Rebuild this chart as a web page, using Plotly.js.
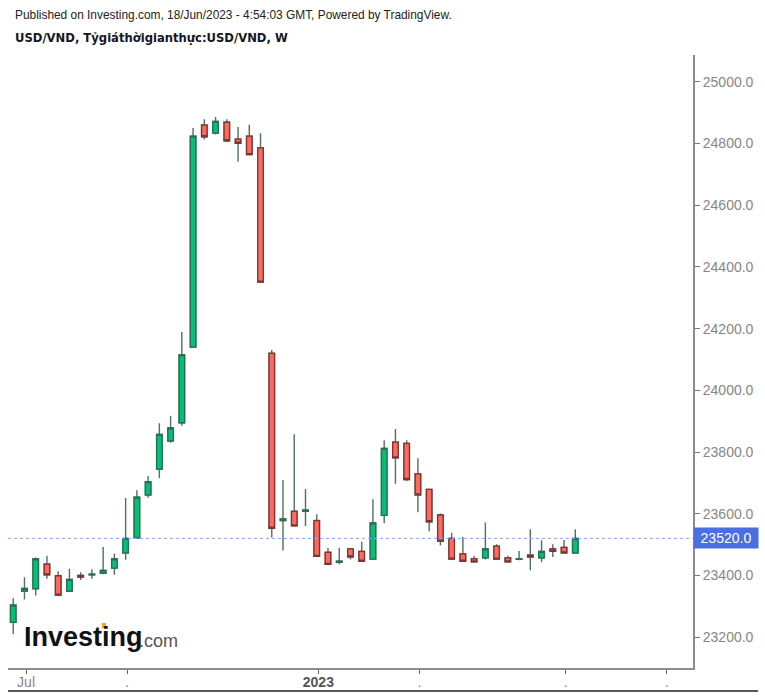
<!DOCTYPE html>
<html>
<head>
<meta charset="utf-8">
<script src="https://cdn.plot.ly/plotly-3.0.1.min.js"></script>
<style>
  html, body { margin: 0; padding: 0; background: #fff; }
</style>
</head>
<body>
<div id="chart" style="width:765px;height:696px;"></div>
<script>
// weekly bars
const weeks = [
  '2022-06-27','2022-07-04','2022-07-11','2022-07-18','2022-07-25','2022-08-01','2022-08-08','2022-08-15','2022-08-22','2022-08-29',
  '2022-09-05','2022-09-12','2022-09-19','2022-09-26','2022-10-03','2022-10-10','2022-10-17','2022-10-24','2022-10-31','2022-11-07',
  '2022-11-14','2022-11-21','2022-11-28','2022-12-05','2022-12-12','2022-12-19','2022-12-26','2023-01-02','2023-01-09','2023-01-16',
  '2023-01-23','2023-01-30','2023-02-06','2023-02-13','2023-02-20','2023-02-27','2023-03-06','2023-03-13','2023-03-20','2023-03-27',
  '2023-04-03','2023-04-10','2023-04-17','2023-04-24','2023-05-01','2023-05-08','2023-05-15','2023-05-22','2023-05-29','2023-06-05',
  '2023-06-12'];
const opens = [
  23248,23349,23357,23437,23399,23349,23400,23402,23407,23424,
  23473,23522,23661,23744,23836,23895,24140,24860,24834,24869,
  24814,24824,24786,24120,23578,23608,23608,23578,23475,23443,
  23486,23478,23453,23595,23832,23828,23729,23679,23596,23520,
  23470,23454,23457,23495,23457,23452,23466,23457,23486,23491,
  23473];
const highs = [
  23326,23394,23458,23464,23414,23422,23410,23420,23492,23471,
  23651,23676,23722,23893,23918,24189,24850,24879,24886,24879,
  24854,24861,24833,24131,23709,23858,23680,23598,23489,23490,
  23489,23509,23647,23838,23875,23838,23780,23679,23601,23538,
  23525,23464,23572,23501,23464,23479,23550,23514,23501,23515,
  23550];
const lows = [
  23210,23322,23335,23389,23336,23349,23385,23389,23404,23402,
  23451,23519,23652,23715,23830,23885,24138,24813,24829,24804,
  24741,24764,24351,23523,23481,23561,23560,23462,23436,23436,
  23452,23446,23453,23569,23697,23705,23605,23543,23497,23453,
  23446,23444,23452,23453,23444,23449,23417,23443,23460,23473,
  23473];
const closes = [
  23304,23358,23454,23402,23336,23387,23395,23404,23416,23454,
  23520,23654,23704,23857,23878,24115,24824,24822,24872,24809,
  24801,24764,24351,23553,23583,23561,23612,23462,23436,23446,
  23460,23446,23570,23812,23781,23711,23661,23574,23511,23453,
  23446,23444,23486,23453,23444,23454,23460,23478,23478,23473,
  23520];

const lastPrice = 23520;
const priceTicks = [23200,23400,23600,23800,24000,24200,24400,24600,24800,25000];
const timeTicks = ['2022-07-05','2022-09-06','2023-01-03','2023-03-07','2023-06-06','2023-08-08'];
const timeLabels = ['Jul','.','<span style="color:#555"><b>2023</b></span>','.','.','.'];

const upFill = '#00c176', upLine = '#2a6f55';
const downFill = '#ff6a60', downLine = '#803331';
const wickColor = '#4d7263';
const barWidth = 0.78 * 7 * 24 * 3600 * 1000;

// wicks go in their own trace so they can differ from the body outline
const wicks = {
  type: 'candlestick', x: weeks, open: opens, high: highs, low: lows, close: closes,
  width: 1,
  increasing: { line: { color: wickColor, width: 1.4 }, fillcolor: wickColor },
  decreasing: { line: { color: wickColor, width: 1.4 }, fillcolor: wickColor },
  hoverinfo: 'skip', showlegend: false
};
const bodies = {
  type: 'candlestick', x: weeks, open: opens, close: closes,
  high: opens.map((o, i) => Math.max(o, closes[i])),
  low: opens.map((o, i) => Math.min(o, closes[i])),
  width: barWidth,
  increasing: { line: { color: upLine, width: 1.3 }, fillcolor: upFill },
  decreasing: { line: { color: downLine, width: 1.3 }, fillcolor: downFill },
  showlegend: false
};

const layout = {
  width: 765, height: 696,
  margin: { l: 8, r: 72, t: 55, b: 28 },
  paper_bgcolor: '#fff', plot_bgcolor: '#fff',
  showlegend: false,
  font: { family: '"Liberation Sans", Arial, sans-serif', size: 14, color: '#868686' },
  xaxis: {
    type: 'date', range: ['2022-06-23 18:00', '2023-08-24 07:00'],
    rangeslider: { visible: false },
    showgrid: false, zeroline: false,
    showline: true, linecolor: '#8c8c8c', linewidth: 2,
    ticks: 'outside', ticklen: 4, tickwidth: 1, tickcolor: '#666',
    tickmode: 'array', tickvals: timeTicks, ticktext: timeLabels,
    ticklabelstandoff: -4,
    tickfont: { size: 14, color: '#868686' }
  },
  yaxis: {
    side: 'right', range: [23100, 25087],
    showgrid: false, zeroline: false,
    showline: true, linecolor: '#8c8c8c', linewidth: 2,
    ticks: 'outside', ticklen: 5, tickwidth: 1, tickcolor: '#777',
    tickmode: 'array', tickvals: priceTicks, tickformat: '.1f',
    tickfont: { size: 14, color: '#868686' }
  },
  shapes: [
    { type: 'line', xref: 'paper', yref: 'y', x0: 0, x1: 1, y0: lastPrice, y1: lastPrice,
      line: { color: '#8ea6f5', width: 1, dash: 'dot' } },
    { type: 'line', xref: 'paper', yref: 'paper', x0: 0, x1: 1.095, y0: -0.0375, y1: -0.0375,
      line: { color: '#222', width: 1.5 } },
    { type: 'rect', xref: 'paper', yref: 'paper', x0: 0.137, x1: 0.143, y0: 0.065, y1: 0.0734,
      line: { width: 0 }, fillcolor: '#f7a11a' }
  ],
  annotations: [
    { xref: 'paper', yref: 'paper', x: 1, y: (lastPrice - 23100) / (25087 - 23100), xanchor: 'left', yanchor: 'middle',
      text: lastPrice.toFixed(1), showarrow: false, width: 62, height: 18, align: 'center',
      bgcolor: '#4a6fe0', font: { size: 14, color: '#fff' } },
    { xref: 'paper', yref: 'paper', x: 0.0073, y: 1.0645, xanchor: 'left', yanchor: 'middle',
      text: 'Published on Investing.com, 18/Jun/2023 - 4:54:03 GMT, Powered by TradingView.',
      showarrow: false, font: { size: 11.9, color: '#222' } },
    { xref: 'paper', yref: 'paper', x: 0.0073, y: 1.0285, xanchor: 'left', yanchor: 'middle',
      text: '<b>USD/VND, Tỷgiáthờigianthực:USD/VND, W</b>',
      showarrow: false, font: { family: '"DejaVu Sans", sans-serif', size: 11.6, color: '#131722' } },
    { xref: 'paper', yref: 'paper', x: 0.0204, y: 0.05, xanchor: 'left', yanchor: 'middle',
      text: '<b>Investing</b>',
      showarrow: false, font: { size: 27, color: '#111' } },
    { xref: 'paper', yref: 'paper', x: 0.189, y: 0.0445, xanchor: 'left', yanchor: 'middle',
      text: '.com',
      showarrow: false, font: { size: 18, color: '#555' } }
  ]
};

Plotly.newPlot('chart', [wicks, bodies], layout, { staticPlot: true });
</script>
</body>
</html>
